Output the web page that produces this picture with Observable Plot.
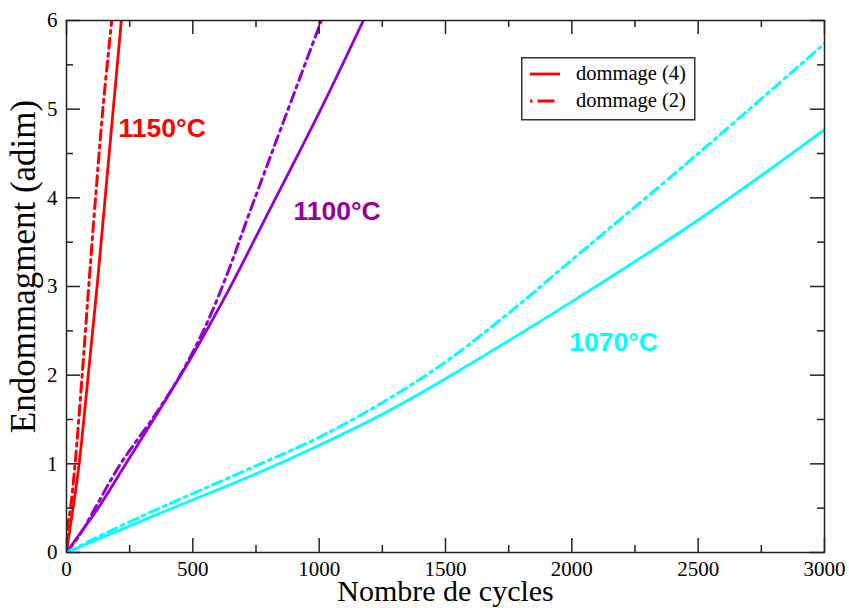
<!DOCTYPE html>
<html>
<head>
<meta charset="utf-8">
<script src="https://cdn.jsdelivr.net/npm/d3@7"></script>
<script src="https://cdn.jsdelivr.net/npm/@observablehq/plot@0.6"></script>
<style>
  body { margin: 0; background: white; }
  #wrap { position: relative; width: 849px; height: 608px; }
  #legend { position: absolute; left: 521px; top: 57px; }
</style>
</head>
<body>
<div id="wrap"></div>
<script>
// ---- data ----
const xDomain = [0, 3000];
const yDomain = [0, 6];
const xTicks = [0, 500, 1000, 1500, 2000, 2500, 3000];
const xMinorTicks = [250, 750, 1250, 1750, 2250, 2750];
const yTicks = [0, 1, 2, 3, 4, 5, 6];
const yMinorTicks = [0.5, 1.5, 2.5, 3.5, 4.5, 5.5];

// 1150°C
const x1150d4 = [0, 10, 26, 50, 86, 121, 153, 185, 217];
const y1150d4 = [0, 0.2, 0.5, 1, 2, 3, 4, 5, 6];
const x1150d2 = [0, 4, 16, 34, 62, 88, 115, 144, 179];
const y1150d2 = [0, 0.28, 0.5, 1, 2, 3, 4, 5, 6];
// 1100°C
const x1100d4 = [0, 50, 125, 235, 360, 500, 640, 780, 1000, 1175];
const y1100d4 = [0, 0.2, 0.5, 1, 1.57, 2.23, 2.95, 3.73, 4.96, 6];
const x1100d2 = [0, 55, 115, 214, 350, 450, 550, 640, 728, 1009];
const y1100d2 = [0, 0.21, 0.51, 1, 1.55, 2.0, 2.55, 3.17, 3.86, 6];
// 1070°C
const x1070d4 = [0, 200, 400, 600, 800, 1000, 1250, 1500, 2000, 2500, 3000];
const y1070d4 = [0, 0.24, 0.48, 0.71, 0.95, 1.21, 1.56, 1.96, 2.83, 3.75, 4.77];
const x1070d2 = [0, 200, 400, 600, 800, 1000, 1250, 1500, 1750, 2000, 2500, 3000];
const y1070d2 = [0, 0.28, 0.54, 0.79, 1.04, 1.3, 1.69, 2.15, 2.7, 3.3, 4.5, 5.74];

const temps = ["1150°C", "1100°C", "1070°C"];
const lineColors = ["#ff0000", "#9400d3", "#00ffff"];
const labelColors = ["#ff0000", "#990099", "#00ffff"];
const labelX = [206, 898, 1990];
const labelY = [4.69, 3.755, 2.267];
const legendLabels = ["dommage (4)", "dommage (2)"];
const xTitle = "Nombre de cycles";
const yTitle = "Endommagment (adim)";

// ---- build tables ----
function rows(temp, color, xs, ys) {
  return xs.map((x, i) => ({temp, color, x, y: ys[i]}));
}
const solid = [
  ...rows(temps[0], lineColors[0], x1150d4, y1150d4),
  ...rows(temps[1], lineColors[1], x1100d4, y1100d4),
  ...rows(temps[2], lineColors[2], x1070d4, y1070d4)
];
const dashdot = [
  ...rows(temps[0], lineColors[0], x1150d2, y1150d2),
  ...rows(temps[1], lineColors[1], x1100d2, y1100d2),
  ...rows(temps[2], lineColors[2], x1070d2, y1070d2)
];
const labels = temps.map((t, i) => ({text: t, x: labelX[i], y: labelY[i], color: labelColors[i]}));

const dashPattern = "10,5,3,5";
const frameColor = "#222";
const serif = "'Liberation Serif', 'Times New Roman', serif";

const chart = Plot.plot({
  width: 849,
  height: 608,
  marginLeft: 66,
  marginRight: 25,
  marginTop: 20,
  marginBottom: 56,
  style: {fontFamily: serif, fontSize: "21px", background: "white", color: "black"},
  x: {domain: xDomain},
  y: {domain: yDomain},
  marks: [
    // curves
    Plot.line(solid, {x: "x", y: "y", z: "temp", stroke: "color", strokeWidth: 2.8, curve: "catmull-rom", clip: "frame"}),
    Plot.line(dashdot, {x: "x", y: "y", z: "temp", stroke: "color", strokeWidth: 3, strokeDasharray: dashPattern, curve: "catmull-rom", clip: "frame"}),
    // frame
    Plot.frame({stroke: frameColor, strokeWidth: 1.5}),
    // inward ticks, bottom & top
    Plot.ruleX(xTicks, {x: d => d, y1: yDomain[0], y2: yDomain[0], insetBottom: 14, stroke: frameColor, strokeWidth: 1.5}),
    Plot.ruleX(xMinorTicks, {x: d => d, y1: yDomain[0], y2: yDomain[0], insetBottom: 7, stroke: frameColor, strokeWidth: 1.5}),
    Plot.ruleX(xTicks, {x: d => d, y1: yDomain[1], y2: yDomain[1], insetTop: 14, stroke: frameColor, strokeWidth: 1.5}),
    Plot.ruleX(xMinorTicks, {x: d => d, y1: yDomain[1], y2: yDomain[1], insetTop: 7, stroke: frameColor, strokeWidth: 1.5}),
    // inward ticks, left & right
    Plot.ruleY(yTicks, {y: d => d, x1: xDomain[0], x2: xDomain[0], insetLeft: 14, stroke: frameColor, strokeWidth: 1.5}),
    Plot.ruleY(yMinorTicks, {y: d => d, x1: xDomain[0], x2: xDomain[0], insetLeft: 7, stroke: frameColor, strokeWidth: 1.5}),
    Plot.ruleY(yTicks, {y: d => d, x1: xDomain[1], x2: xDomain[1], insetRight: 14, stroke: frameColor, strokeWidth: 1.5}),
    Plot.ruleY(yMinorTicks, {y: d => d, x1: xDomain[1], x2: xDomain[1], insetRight: 7, stroke: frameColor, strokeWidth: 1.5}),
    // tick labels
    Plot.axisX({ticks: xTicks, tickSize: 0, tickPadding: 9, label: null, fontSize: 21, tickFormat: d => String(d)}),
    Plot.axisY({ticks: yTicks, tickSize: 0, tickPadding: 9, label: null, fontSize: 21, tickFormat: d => String(d)}),
    // axis titles
    Plot.text([xTitle], {text: d => d, frameAnchor: "bottom", textAnchor: "middle", dy: 39, lineAnchor: "middle", fontSize: 30}),
    Plot.text([yTitle], {text: d => d, frameAnchor: "left", textAnchor: "middle", rotate: -90, dx: -43, dy: -20, lineAnchor: "middle", fontSize: 35}),
    // temperature annotations
    Plot.text(labels, {x: "x", y: "y", text: "text", fill: "color", textAnchor: "start", lineAnchor: "bottom",
      fontSize: 26.5, fontWeight: "bold", fontFamily: "'Liberation Sans', Arial, sans-serif"})
  ]
});
document.getElementById("wrap").appendChild(chart);

// legend (inside the plot area, as in the reference)
const lg = d3.select("#wrap").append("svg").attr("id", "legend")
  .attr("width", 176).attr("height", 65);
lg.append("rect").attr("x", 0.75).attr("y", 0.75).attr("width", 173).attr("height", 62)
  .attr("fill", "white").attr("stroke", "#333").attr("stroke-width", 1.5);
legendLabels.forEach((t, i) => {
  const yy = 17 + i * 27;
  lg.append("line").attr("x1", 9).attr("x2", 39).attr("y1", yy).attr("y2", yy)
    .attr("stroke", lineColors[0]).attr("stroke-width", 2.8)
    .attr("stroke-dasharray", i === 0 ? null : "2.5,5,17,6");
  lg.append("text").attr("x", 55).attr("y", yy + 6).text(t)
    .attr("font-family", serif).attr("font-size", 20.5).attr("fill", "black");
});
</script>
</body>
</html>
